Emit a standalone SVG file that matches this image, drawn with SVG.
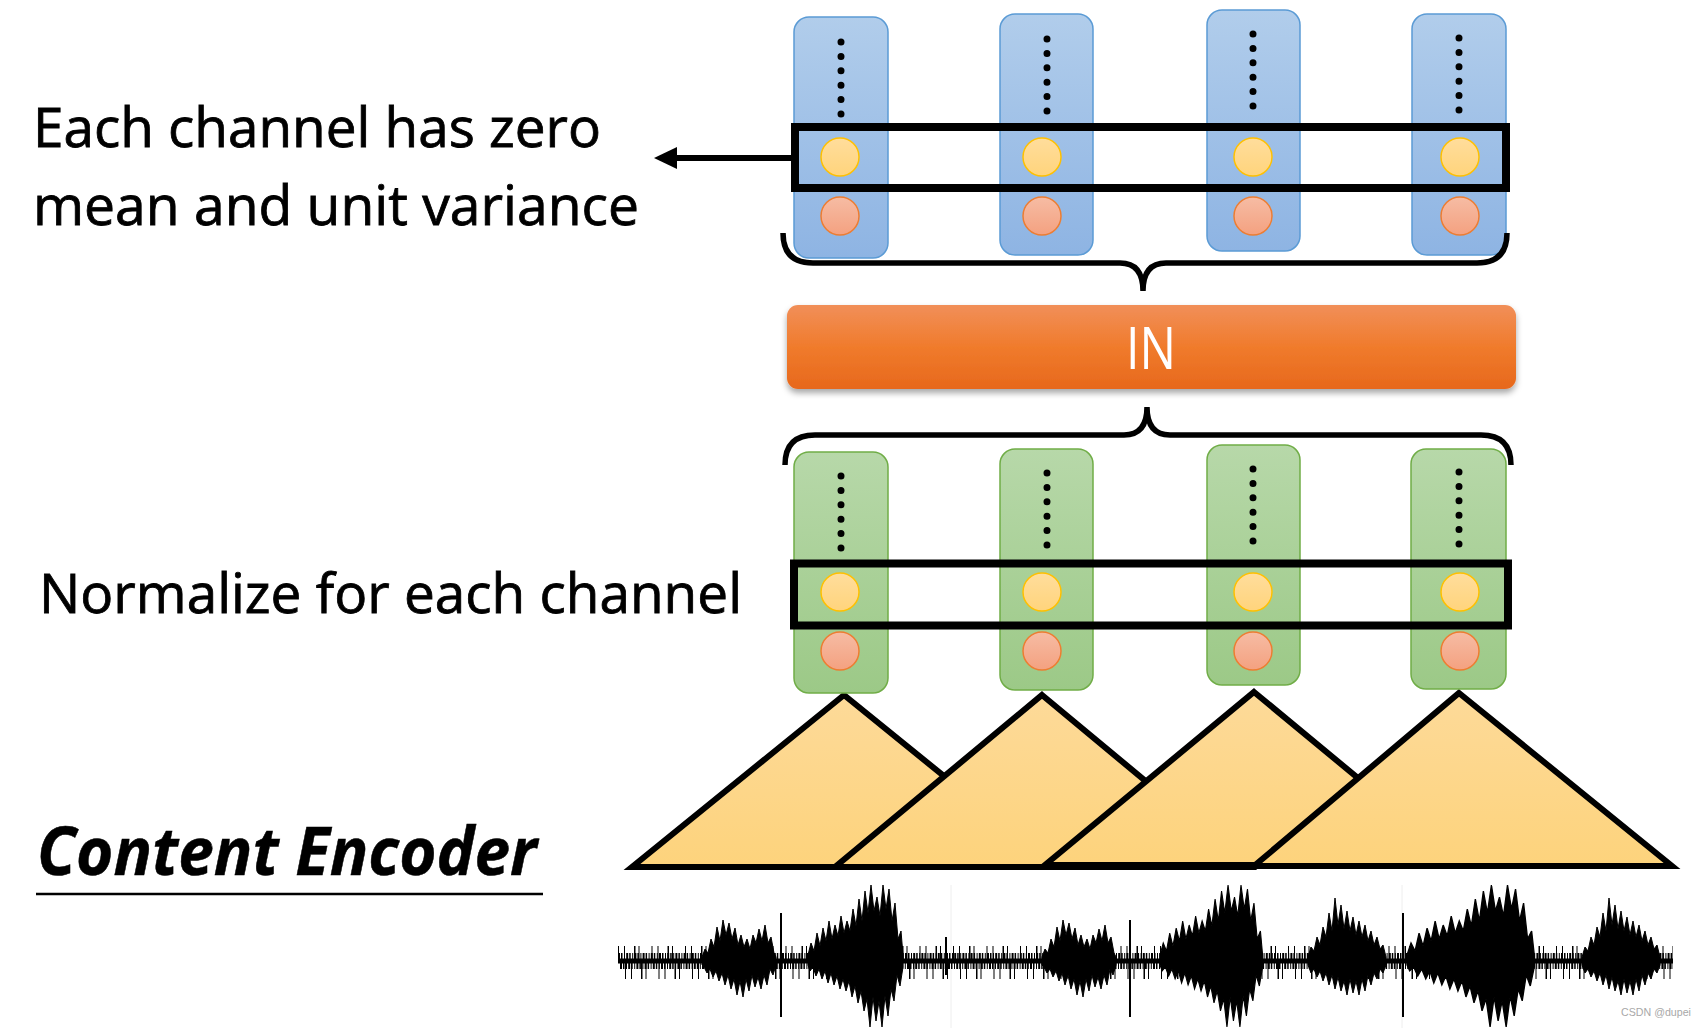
<svg xmlns="http://www.w3.org/2000/svg" width="1706" height="1028" viewBox="0 0 1706 1028">
<defs>
<linearGradient id="gBlue" x1="0" y1="0" x2="0" y2="1"><stop offset="0" stop-color="#B1CDEB"/><stop offset="1" stop-color="#8EB4E3"/></linearGradient>
<linearGradient id="gGreen" x1="0" y1="0" x2="0" y2="1"><stop offset="0" stop-color="#B7D8A9"/><stop offset="1" stop-color="#9CC987"/></linearGradient>
<linearGradient id="gYel" x1="0" y1="0" x2="0" y2="1"><stop offset="0" stop-color="#FFDD9C"/><stop offset="1" stop-color="#FFD47C"/></linearGradient>
<linearGradient id="gRed" x1="0" y1="0" x2="0" y2="1"><stop offset="0" stop-color="#F6BCA4"/><stop offset="1" stop-color="#F4A180"/></linearGradient>
<linearGradient id="gIN" x1="0" y1="0" x2="0" y2="1"><stop offset="0" stop-color="#F18F59"/><stop offset="0.5" stop-color="#F07B2C"/><stop offset="1" stop-color="#E7681C"/></linearGradient>
<linearGradient id="gTri" x1="0" y1="0" x2="0" y2="1"><stop offset="0" stop-color="#FDDA99"/><stop offset="1" stop-color="#FDD37C"/></linearGradient>
<filter id="sh" x="-5%" y="-20%" width="110%" height="150%"><feDropShadow dx="0" dy="4" stdDeviation="3" flood-color="#000" flood-opacity="0.35"/></filter>
<filter id="soft"><feGaussianBlur stdDeviation="0.6"/></filter>
<marker id="ah" markerUnits="userSpaceOnUse" markerWidth="24" markerHeight="24" refX="7" refY="11" orient="auto"><path d="M0,0 L23,11 L0,22 z" fill="#000"/></marker>
<path id="burstA" d="M702 957 L705 949 708 953 711 939 714 947 717 927 720 941 723 920 726 935 729 923 732 939 735 928 738 945 741 935 744 947 747 939 750 949 753 935 756 943 759 929 762 941 765 925 768 943 771 937 774 953 776 957 L776 965 773 975 770 969 767 985 764 975 761 989 758 977 755 987 752 975 749 991 746 979 743 997 740 981 737 995 734 979 731 989 728 975 725 985 722 973 719 981 716 971 713 977 710 969 707 973 704 967 702 965 Z"/>
<path id="burstB" d="M808 955 L811 943 814 951 817 933 820 946 823 928 826 941 829 921 832 939 835 925 838 936 841 916 844 933 847 921 850 931 853 909 856 926 859 899 862 921 865 891 868 913 871 885 874 911 877 897 880 916 883 885 886 909 889 889 892 921 895 903 898 939 901 931 903 955 L903 967 900 986 897 975 894 1001 891 989 888 1016 885 996 882 1027 879 1001 876 1021 873 997 870 1027 867 999 864 1011 861 991 858 1003 855 986 852 997 849 981 846 991 843 979 840 989 837 976 834 985 831 973 828 983 825 971 822 979 819 969 816 976 813 967 810 971 808 965 Z"/>
<path id="burstE" d="M1308 957 L1311 947 1314 951 1317 937 1320 945 1323 927 1326 937 1329 913 1332 931 1335 898 1338 925 1341 905 1344 929 1347 911 1350 931 1353 917 1356 935 1359 921 1362 937 1365 925 1368 941 1371 931 1374 945 1377 937 1380 949 1383 945 1386 957 L1386 965 1383 973 1380 969 1377 979 1374 973 1371 985 1368 975 1365 991 1362 979 1359 995 1356 981 1353 993 1350 979 1347 995 1344 981 1341 991 1338 977 1335 989 1332 975 1329 985 1326 973 1323 981 1320 971 1317 977 1314 969 1311 973 1308 965 Z"/>
<style>
.txt{font-family:"Open Sans","Noto Sans","Liberation Sans",sans-serif;fill:#000;stroke:#000;stroke-width:0.8}
.colB{fill:url(#gBlue);stroke:#5B9BD5;stroke-width:1.5}
.colG{fill:url(#gGreen);stroke:#70AD47;stroke-width:1.5}
.y{fill:url(#gYel);stroke:#FFC000;stroke-width:1.5}
.r{fill:url(#gRed);stroke:#ED7D31;stroke-width:1.5}
.dots{fill:none;stroke:#000;stroke-width:7;stroke-linecap:round;stroke-dasharray:0 14.4}
.hl{fill:none;stroke:#000;stroke-width:8}
.brace{fill:none;stroke:#000;stroke-width:5.5}
.tri{fill:url(#gTri);stroke:#000;stroke-width:6;stroke-linejoin:miter}
.w{fill:none;stroke:#000}
.burst{fill:#000;stroke:#000;stroke-width:1}
.p2{stroke-dasharray:2 1 1.5 1.5 1 1.2}
.p4{stroke-dasharray:1 5 1 9 1.5 3 1 12}
</style>
</defs>
<rect width="1706" height="1028" fill="#fff"/>

<!-- Labels -->
<g id="label-zero-mean">
<text class="txt" x="33" y="147" font-size="55" textLength="568" lengthAdjust="spacingAndGlyphs">Each channel has zero</text>
<text class="txt" x="33" y="225" font-size="55" textLength="606" lengthAdjust="spacingAndGlyphs">mean and unit variance</text>
</g>
<g id="label-normalize">
<text class="txt" x="39" y="613" font-size="55" textLength="703" lengthAdjust="spacingAndGlyphs">Normalize for each channel</text>
</g>
<g id="label-content-encoder">
<text class="txt" x="37" y="875" font-size="66" font-weight="bold" font-style="italic" textLength="500" lengthAdjust="spacingAndGlyphs" style="stroke-width:0.5">Content Encoder</text>
<path d="M36 894 H543" stroke="#000" stroke-width="2.5"/>
</g>

<!-- Triangles (encoder) -->
<g id="encoder">
<path class="tri" d="M844 695 L1056 867 L632 867 Z"/>
<path class="tri" d="M1042 695 L1249 867 L835 867 Z"/>
<path class="tri" d="M1254 692 L1463 865 L1045 865 Z"/>
<path class="tri" d="M1459 693 L1672 866 L1254 866 Z"/>
</g>

<!-- Blue columns (output) -->
<g id="out-col-1"><rect class="colB" x="794" y="17" width="94" height="241" rx="15"/><path class="dots" d="M841 42 V114.1"/><circle class="y" cx="840" cy="157" r="19"/><circle class="r" cx="840" cy="216" r="19"/></g>
<g id="out-col-2"><rect class="colB" x="1000" y="14" width="93" height="241" rx="15"/><path class="dots" d="M1047 39 V111.1"/><circle class="y" cx="1042" cy="157" r="19"/><circle class="r" cx="1042" cy="216" r="19"/></g>
<g id="out-col-3"><rect class="colB" x="1207" y="10" width="93" height="241" rx="15"/><path class="dots" d="M1253 34 V106.1"/><circle class="y" cx="1253" cy="157" r="19"/><circle class="r" cx="1253" cy="216" r="19"/></g>
<g id="out-col-4"><rect class="colB" x="1412" y="14" width="94" height="241" rx="15"/><path class="dots" d="M1459 38 V110.1"/><circle class="y" cx="1460" cy="157" r="19"/><circle class="r" cx="1460" cy="216" r="19"/></g>
<g id="out-highlight"><rect class="hl" x="795" y="127" width="711" height="61"/></g>

<!-- IN block -->
<g id="in-block">
<rect x="787" y="305" width="729" height="84" rx="11" fill="url(#gIN)" filter="url(#sh)"/>
<text x="1151" y="369" font-family="'Open Sans','Noto Sans','Liberation Sans',sans-serif" font-size="59" text-anchor="middle" fill="#fff" textLength="50" lengthAdjust="spacingAndGlyphs">IN</text>
</g>

<!-- Green columns (input) -->
<g id="in-col-1"><rect class="colG" x="794" y="452" width="94" height="241" rx="15"/><path class="dots" d="M841 476 V548.1"/><circle class="y" cx="840" cy="592" r="19"/><circle class="r" cx="840" cy="651" r="19"/></g>
<g id="in-col-2"><rect class="colG" x="1000" y="449" width="93" height="241" rx="15"/><path class="dots" d="M1047 473 V545.1"/><circle class="y" cx="1042" cy="592" r="19"/><circle class="r" cx="1042" cy="651" r="19"/></g>
<g id="in-col-3"><rect class="colG" x="1207" y="445" width="93" height="240" rx="15"/><path class="dots" d="M1253 469 V541.1"/><circle class="y" cx="1253" cy="592" r="19"/><circle class="r" cx="1253" cy="651" r="19"/></g>
<g id="in-col-4"><rect class="colG" x="1411" y="449" width="95" height="240" rx="15"/><path class="dots" d="M1459 472 V544.1"/><circle class="y" cx="1460" cy="592" r="19"/><circle class="r" cx="1460" cy="651" r="19"/></g>
<g id="in-highlight"><rect class="hl" x="794" y="563.5" width="714" height="62"/></g>

<!-- Connectors -->
<g id="connectors">
<path d="M793 158 H670" stroke="#000" stroke-width="6" fill="none" marker-end="url(#ah)"/>
<path class="brace" d="M783 233 Q783 263 813 263 L1120 263 Q1143 263 1143 291 Q1143 263 1166 263 L1477 263 Q1507 263 1507 233"/>
<path class="brace" d="M785 465 Q785 435 815 435 L1124 435 Q1147 435 1147 407 Q1147 435 1170 435 L1481 435 Q1511 435 1511 465"/>
</g>

<!-- Waveform -->
<g id="waveform" filter="url(#soft)">
<path d="M951 885 V1028 M1402 885 V1028" stroke="#eeeeee" stroke-width="1"/>
<path class="w" d="M618 961 H1673" stroke-width="5"/>
<path class="w p2" d="M618 957 H1673" stroke-width="8"/>
<path class="w p2" d="M620 965 H1673" stroke-width="8"/>
<path class="w p4" d="M618 953.5 H1673" stroke-width="15"/>
<path class="w p4" d="M625 970 H1673" stroke-width="18"/>
<use href="#burstA" class="burst"/>
<use href="#burstA" class="burst" transform="translate(340,0)"/>
<use href="#burstB" class="burst"/>
<use href="#burstB" class="burst" transform="translate(1160,0) scale(1.08,1) translate(-808,0)"/>
<use href="#burstB" class="burst" transform="translate(1407,0) scale(1.34,1) translate(-808,0)"/>
<use href="#burstE" class="burst"/>
<use href="#burstE" class="burst" transform="translate(274,0)"/>
<path class="w" d="M781 913 V1017 M946 937 V975 M1130 920 V1017 M1403 913 V1017" stroke-width="2"/>
</g>

<g id="watermark">
<text x="1621" y="1016" font-family="'Liberation Sans',Arial,sans-serif" font-size="10.5" fill="#a8a8a8" textLength="70" lengthAdjust="spacingAndGlyphs">CSDN @dupei</text>
</g>
</svg>
